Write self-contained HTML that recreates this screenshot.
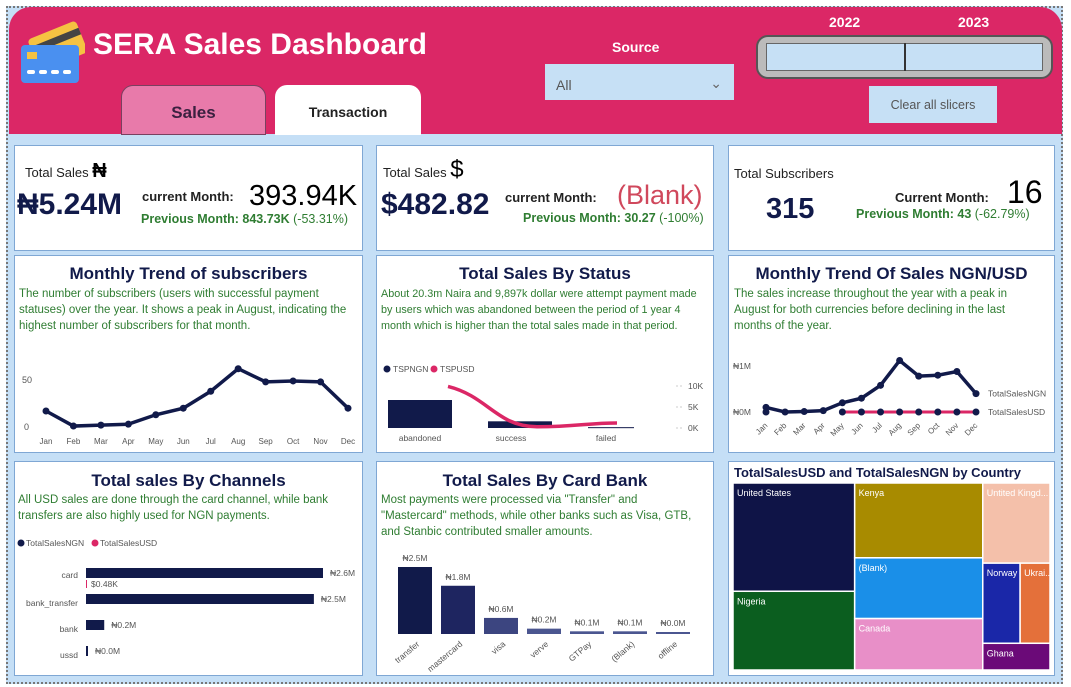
<!DOCTYPE html>
<html><head><meta charset="utf-8">
<style>
body{margin:0;width:1071px;height:687px;overflow:hidden;background:#fff;font-family:"Liberation Sans","DejaVu Sans",sans-serif;position:relative}
.abs{position:absolute}
.card{position:absolute;background:#fff;border:1px solid #7fa7d4;box-sizing:border-box}
.t{position:absolute;white-space:nowrap}
.title{font-weight:bold;color:#111a4a;font-size:17px;text-align:center;left:0;right:0}
.desc{position:absolute;color:#2f7d32;font-size:11.5px;line-height:16px}
svg text{font-family:"Liberation Sans",sans-serif}
</style></head><body>
<div class="abs" style="left:6px;top:6px;width:1057px;height:678px;border:2px dotted #777;background:#c5dff6;box-sizing:border-box"></div>
<div class="abs" style="left:9px;top:7px;width:1053px;height:127px;background:#db2766;border-radius:22px 22px 0 0"></div>
<svg class="abs" style="left:17px;top:19px" width="68" height="66">
<g transform="rotate(-22 40 25)"><rect x="14" y="10" width="52" height="34" rx="4" fill="#f5c242"/><rect x="14" y="18" width="52" height="7" fill="#444"/></g>
<rect x="4" y="26" width="58" height="38" rx="4" fill="#4a90f0"/><rect x="10" y="33" width="10" height="7" fill="#f5c242"/>
<g fill="#fff"><rect x="10" y="51" width="8" height="4" rx="2"/><rect x="22" y="51" width="8" height="4" rx="2"/><rect x="34" y="51" width="8" height="4" rx="2"/><rect x="46" y="51" width="8" height="4" rx="2"/></g></svg>
<div class="t" style="left:93px;top:28px;font-size:30px;font-weight:bold;color:#fff">SERA Sales Dashboard</div>
<div class="abs" style="left:121px;top:85px;width:145px;height:50px;background:#e87aaa;border:1px solid #7a4060;border-radius:12px 12px 0 0;box-sizing:border-box;text-align:center;line-height:54px;font-weight:bold;font-size:17px;color:#3b2040">Sales</div>
<div class="abs" style="left:275px;top:85px;width:146px;height:50px;background:#fff;border-radius:12px 12px 0 0;text-align:center;line-height:54px;font-weight:bold;font-size:14px;color:#222">Transaction</div>
<div class="t" style="left:612px;top:39px;font-weight:bold;font-size:14px;color:#fff">Source</div>
<div class="abs" style="left:545px;top:64px;width:189px;height:36px;background:#c6e0f5;color:#555;font-size:14px;line-height:42px;padding-left:11px;box-sizing:border-box">All<span style="position:absolute;right:12px;top:-2px;color:#666">&#8964;</span></div>
<div class="t" style="left:829px;top:14px;font-weight:bold;font-size:14px;color:#fff">2022</div>
<div class="t" style="left:958px;top:14px;font-weight:bold;font-size:14px;color:#fff">2023</div>
<div class="abs" style="left:756px;top:35px;width:297px;height:44px;background:#bbb;border:2px solid #555;border-radius:12px;box-sizing:border-box">
<div class="abs" style="left:8px;top:6px;width:277px;height:28px;background:#c6e0f5;border:1px solid #666;box-sizing:border-box"></div>
<div class="abs" style="left:146px;top:6px;width:2px;height:28px;background:#333"></div></div>
<div class="abs" style="left:869px;top:86px;width:128px;height:37px;background:#c6e0f5;color:#555;font-size:12.5px;text-align:center;line-height:38px">Clear all slicers</div>

<div class="card" style="left:14px;top:145px;width:349px;height:106px">
<div class="t" style="left:10px;top:14px;font-size:13px;color:#222">Total Sales <b style="font-size:20px;color:#000">&#8358;</b></div>
<div class="t" style="left:2px;top:42px;font-size:30px;font-weight:bold;color:#111a4a">&#8358;5.24M</div>
<div class="t" style="left:127px;top:43px;font-size:13px;font-weight:bold;color:#222">current Month:</div>
<div class="t" style="left:234px;top:34px;font-size:29px;color:#000">393.94K</div>
<div class="t" style="left:126px;top:66px;font-size:12.5px;color:#2f7d32"><b>Previous Month: 843.73K</b> (-53.31%)</div></div>
<div class="card" style="left:376px;top:145px;width:338px;height:106px">
<div class="t" style="left:6px;top:10px;font-size:13px;color:#222">Total Sales <span style="font-size:24px;color:#000">$</span></div>
<div class="t" style="left:4px;top:42px;font-size:30px;font-weight:bold;color:#111a4a">$482.82</div>
<div class="t" style="left:128px;top:44px;font-size:13px;font-weight:bold;color:#222">current Month:</div>
<div class="t" style="left:240px;top:34px;font-size:27px;color:#d0485c">(Blank)</div>
<div class="t" style="left:146px;top:65px;font-size:12.5px;color:#2f7d32"><b>Previous Month: 30.27</b> (-100%)</div></div>
<div class="card" style="left:728px;top:145px;width:327px;height:106px">
<div class="t" style="left:5px;top:20px;font-size:13px;color:#222">Total Subscribers</div>
<div class="t" style="left:37px;top:47px;font-size:29px;font-weight:bold;color:#111a4a">315</div>
<div class="t" style="left:166px;top:44px;font-size:13px;font-weight:bold;color:#222">Current Month:</div>
<div class="t" style="left:278px;top:28px;font-size:32px;color:#000">16</div>
<div class="t" style="left:127px;top:61px;font-size:12.5px;color:#2f7d32"><b>Previous Month: 43</b> (-62.79%)</div></div>

<div class="card" style="left:14px;top:255px;width:349px;height:198px">
<div class="t title" style="top:8px">Monthly Trend of subscribers</div>
<div class="desc" style="left:4px;top:30px;width:340px">The number of subscribers (users with successful payment statuses) over the year. It shows a peak in August, indicating the highest number of subscribers for that month.</div></div>
<div class="card" style="left:376px;top:255px;width:338px;height:198px">
<div class="t title" style="top:8px">Total Sales By Status</div>
<div class="desc" style="left:4px;top:30px;width:322px;font-size:10.8px">About 20.3m Naira and 9,897k dollar were attempt payment  made by users which was abandoned between the period of 1 year 4 month which is higher than the total sales made in that period.</div></div>
<div class="card" style="left:728px;top:255px;width:327px;height:198px">
<div class="t title" style="top:8px">Monthly Trend Of Sales NGN/USD</div>
<div class="desc" style="left:5px;top:30px;width:300px">The sales increase throughout the year with a peak in August for both currencies before declining in the last months of the year.</div></div>
<div class="card" style="left:14px;top:461px;width:349px;height:215px">
<div class="t title" style="top:9px">Total sales By Channels</div>
<div class="desc" style="left:3px;top:30px;width:340px">All USD sales are done through the card channel, while bank transfers are also highly used for NGN payments.</div></div>
<div class="card" style="left:376px;top:461px;width:338px;height:215px">
<div class="t title" style="top:9px">Total Sales By Card Bank</div>
<div class="desc" style="left:4px;top:30px;width:322px">Most payments were processed via "Transfer" and "Mastercard" methods, while other banks such as Visa, GTB, and Stanbic contributed smaller amounts.</div></div>
<div class="card" style="left:728px;top:461px;width:327px;height:215px">
<div class="t" style="left:5px;top:3px;font-size:13px;font-weight:bold;color:#111a4a">TotalSalesUSD and TotalSalesNGN by Country</div></div>

<svg id="charts" class="abs" style="left:0;top:0" width="1071" height="687"></svg>
<script>
const months=["Jan","Feb","Mar","Apr","May","Jun","Jul","Aug","Sep","Oct","Nov","Dec"];
const subscribers=[17,1,2,3,13,20,38,62,48,49,48,20];
const salesNGN=[0.1,0.0,0.01,0.03,0.2,0.3,0.58,1.12,0.78,0.8,0.88,0.4];
const salesUSD=[0,null,null,null,0,0,0,0,0,0,0,0];
const statuses=["abandoned","success","failed"];
const statusNGN=[6.7,1.6,0.2];
const statusUSD=[9.9,0.3,1.2];
const statusTicks=["0K","5K","10K"];
const channels=["card","bank_transfer","bank","ussd"];
const channelNGN=[2.6,2.5,0.2,0.0];
const channelLabels=["₦2.6M","₦2.5M","₦0.2M","₦0.0M"];
const banks=["transfer","mastercard","visa","verve","GTPay","(Blank)","offline"];
const bankNGN=[2.5,1.8,0.6,0.2,0.1,0.1,0.02];
const bankLabels=["₦2.5M","₦1.8M","₦0.6M","₦0.2M","₦0.1M","₦0.1M","₦0.0M"];
const countries=["United States","Nigeria","Kenya","(Blank)","Canada","Untited Kingd...","Norway","Ukrai...","Ghana"];
const countryValues=[22,16,16,13,11,9,5,4,3];
const countryColors=["#0f1447","#0b5e1f","#a88b00","#1a8fe8","#e88fc8","#f4c0aa","#1a27a8","#e4703a","#6b0a78"];

const S=document.getElementById('charts');
const NS='http://www.w3.org/2000/svg';
function el(tag,attrs,parent){const e=document.createElementNS(NS,tag);for(const k in attrs)e.setAttribute(k,attrs[k]);(parent||S).appendChild(e);return e;}
function txt(x,y,s,attrs,parent){const e=el('text',Object.assign({x:x,y:y,'font-size':9,fill:'#555'},attrs||{}),parent);e.textContent=s;return e;}

(function(){
 const g=el('g',{});
 const x=i=>46+i*(302/11), y=v=>427-v*(47/50);
 txt(22,y(50)+3,"50",{},g);txt(24,y(0)+3,"0",{},g);
 el('polyline',{points:subscribers.map((v,i)=>x(i)+','+y(v)).join(' '),fill:'none',stroke:'#111a4a','stroke-width':3.5},g);
 subscribers.forEach((v,i)=>{const c=el('circle',{cx:x(i),cy:y(v),r:3.5,fill:'#111a4a'},g);
  txt(x(i),444,months[i],{'text-anchor':'middle','font-size':8},g);});
})();
(function(){
 const g=el('g',{});
 const base=428,cx=i=>420+i*(100), yR=v=>base-v*(42/10), yL=v=>base-v*(28/6.7);
 el('circle',{cx:387,cy:369,r:3.5,fill:'#111a4a'},g);txt(393,372,"TSPNGN",{'font-size':8.5},g);
 el('circle',{cx:434,cy:369,r:3.5,fill:'#db2766'},g);txt(440,372,"TSPUSD",{'font-size':8.5},g);
 statusTicks.forEach((t,i)=>{const v=i*5;txt(688,yR(v)+3,t,{'font-size':8.5},g);el('line',{x1:676,x2:683,y1:yR(v),y2:yR(v),stroke:'#ccc','stroke-dasharray':'2 2'},g);});
 statuses.forEach((s,i)=>{const w=i==2?46:64,yy=yL(statusNGN[i]);const r=el('rect',{x:cx(i)-32,y:yy,width:w,height:Math.max(1,base-yy),fill:'#111a4a'},g);
  txt(cx(i)-(i==1?9:0)+(i==2?-14:0),441,s,{'text-anchor':'middle','font-size':8.5},g);});
 const px=[448,537,617],py=statusUSD.map(yR);
 el('path',{d:`M${px[0]},${py[0]} C${px[0]+40},${py[0]+10} ${px[1]-40},${py[1]} ${px[1]},${py[1]} S${px[2]-30},${py[2]} ${px[2]},${py[2]}`,fill:'none',stroke:'#db2766','stroke-width':3.5},g);
})();
(function(){
 const g=el('g',{});
 const x=i=>766+i*(210/11), y=v=>412-v*46;
 txt(733,y(1)+3,"₦1M",{'font-size':8.5},g);txt(733,y(0)+3,"₦0M",{'font-size':8.5},g);
 const up=salesUSD.map((v,i)=>v===null?null:[x(i),y(v)]).filter((p,i)=>p&&i>=4);
 el('polyline',{points:up.map(p=>p.join(',')).join(' '),fill:'none',stroke:'#db2766','stroke-width':3},g);
 el('polyline',{points:salesNGN.map((v,i)=>x(i)+','+y(v)).join(' '),fill:'none',stroke:'#111a4a','stroke-width':3.5},g);
 salesNGN.forEach((v,i)=>{el('circle',{cx:x(i),cy:y(v),r:3.5,fill:'#111a4a'},g);
  if(salesUSD[i]!==null)el('circle',{cx:x(i),cy:y(salesUSD[i]),r:3.5,fill:'#111a4a'},g);
  txt(x(i)+2,426,months[i],{'text-anchor':'end','font-size':8,transform:`rotate(-45 ${x(i)+2} 426)`},g);});
 txt(988,y(salesNGN[11])+3,"TotalSalesNGN",{'font-size':8.5},g);txt(988,y(0)+3,"TotalSalesUSD",{'font-size':8.5},g);
})();
(function(){
 const g=el('g',{});
 el('circle',{cx:21,cy:543,r:3.5,fill:'#111a4a'},g);txt(26,546,"TotalSalesNGN",{'font-size':8.5},g);
 el('circle',{cx:95,cy:543,r:3.5,fill:'#db2766'},g);txt(100,546,"TotalSalesUSD",{'font-size':8.5},g);
 const x0=86,sc=237/2.6;
 channels.forEach((c,i)=>{const yy=573+i*26;const w=Math.max(2,channelNGN[i]*sc);
  const r=el('rect',{x:x0,y:yy-5,width:w,height:10,fill:'#111a4a'},g);
  txt(x0+w+7,yy+3,channelLabels[i],{'font-size':8.5},g);txt(78,yy+5+(i==0?0:2),c,{'text-anchor':'end','font-size':8.5},g);});
 el('line',{x1:86.5,x2:86.5,y1:580,y2:588,stroke:'#db2766'},g);txt(91,587,"$0.48K",{'font-size':8.5},g);
})();
(function(){
 const g=el('g',{});
 const base=634,sc=67/2.5,cols=["#111a4a","#1e2560","#3c4580","#4b5690","#4b5690","#4b5690","#4b5690"];
 banks.forEach((b,i)=>{const x=398+i*43,h=Math.max(2,bankNGN[i]*sc);
  const r=el('rect',{x:x,y:base-h,width:34,height:h,fill:cols[i]},g);
  txt(x+17,base-h-6,bankLabels[i],{'text-anchor':'middle','font-size':8.5},g);
  txt(x+22,645,b,{'text-anchor':'end','font-size':8.5,transform:`rotate(-40 ${x+22} 645)`},g);});
})();
(function(){
 const g=el('g',{});
 const X0=733,Y0=483,W=317,H=187,tot=countryValues.reduce((a,b)=>a+b,0);
 const col=(a,b)=>countryValues.slice(a,b).reduce((s,v)=>s+v,0);
 const w1=W*col(0,2)/tot,w2=W*col(2,5)/tot,w3=W-w1-w2;
 function stack(idx,x,w){let y=Y0;const t=idx.reduce((s,i)=>s+countryValues[i],0);idx.forEach(i=>{const h=H*countryValues[i]/t;cell(i,x,y,w,h);y+=h;});}
 function cell(i,x,y,w,h){const r=el('rect',{x:x,y:y,width:w,height:h,fill:countryColors[i],stroke:'#fff','stroke-width':1.5},g);
  txt(x+4,y+13,countries[i],{'font-size':9,fill:'#fff'},g);}
 stack([0,1],X0,w1);stack([2,3,4],X0+w1,w2);
 const x3=X0+w1+w2;const t3=col(5,9);
 const hUK=H*countryValues[5]/t3,hG=H*countryValues[8]/t3,hm=H-hUK-hG;
 cell(5,x3,Y0,w3,hUK);const wn=w3*countryValues[6]/(countryValues[6]+countryValues[7]);
 cell(6,x3,Y0+hUK,wn,hm);cell(7,x3+wn,Y0+hUK,w3-wn,hm);cell(8,x3,Y0+hUK+hm,w3,hG);
})();
</script>
</body></html>
